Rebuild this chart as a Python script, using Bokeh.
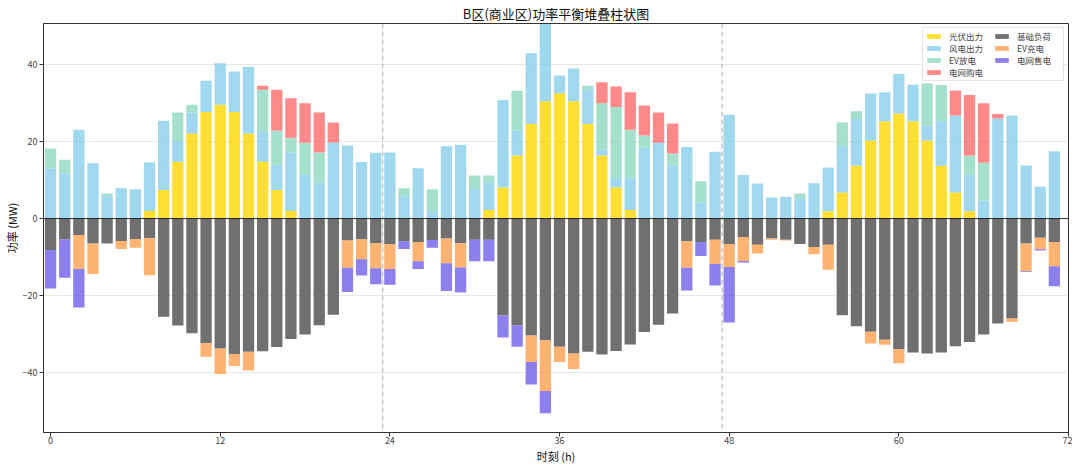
from bokeh.plotting import figure
from bokeh.models import ColumnDataSource, Legend, LegendItem, Span, Range1d, FixedTicker
from bokeh.embed import file_html
from bokeh.resources import INLINE

FONT = "Noto Sans CJK SC"

hours = list(range(72))

pv = [0, 0, 0, 0, 0, 0, 0, 2.0, 7.4, 14.8, 22.1, 27.7, 29.6, 27.7, 22.1, 14.8, 7.4, 2.0,
      0, 0, 0, 0, 0, 0, 0, 0, 0, 0, 0, 0, 0,
      2.2, 8.1, 16.4, 24.6, 30.5, 32.6, 30.5, 24.6, 16.4, 8.1, 2.2,
      0, 0, 0, 0, 0, 0, 0, 0, 0, 0, 0, 0, 0,
      1.9, 6.8, 13.7, 20.3, 25.3, 27.3, 25.3, 20.3, 13.7, 6.8, 1.9,
      0, 0, 0, 0, 0, 0]

wind = [13.0, 11.7, 23.1, 14.4, 5.8, 7.9, 7.6, 12.6, 18.0, 5.3, 5.5, 8.1,
        10.8, 10.5, 17.3, 7.9, 6.6, 15.1, 11.4, 9.3, 19.8, 19.0, 14.7, 17.1,
        17.2, 5.8, 13.1, 1.9, 18.8, 19.2, 7.7, 7.2, 22.7, 6.5, 18.4, 20.1,
        4.6, 8.5, 8.9, 1.5, 2.5, 8.5, 18.5, 19.7, 14.0, 18.6, 4.1, 17.4,
        27.0, 11.3, 9.1, 5.5, 5.7, 5.3, 9.2, 11.4, 12.0, 12.2, 12.2, 7.5,
        10.3, 9.5, 3.9, 11.6, 20.0, 9.5, 4.7, 26.0, 26.8, 13.8, 8.3, 17.5]

ev_discharge = [5.2, 3.6, 0, 0, 0.7, 0, 0, 0, 0, 7.5, 2.0, 0,
                0, 0, 0, 10.8, 8.9, 3.9, 8.3, 7.9, 0, 0, 0, 0,
                0, 2.1, 0, 5.7, 0, 0, 3.5, 1.8, 0, 10.3, 0, 0,
                0, 0, 1.0, 12.1, 18.4, 12.4, 3.1, 0, 2.9, 0, 5.6, 0,
                0, 0, 0, 0, 0, 1.2, 0, 0, 6.2, 2.0, 0, 0,
                0, 0, 10.9, 9.4, 0, 5.0, 9.8, 0, 0, 0, 0, 0]

grid_buy = [0, 0, 0, 0, 0, 0, 0, 0, 0, 0, 0, 0,
            0, 0, 0, 1.0, 10.6, 10.3, 10.3, 10.4, 5.2, 0, 0, 0,
            0, 0, 0, 0, 0, 0, 0, 0, 0, 0, 0, 0,
            0, 0, 0, 5.4, 5.3, 9.7, 7.8, 7.9, 7.8, 0, 0, 0,
            0, 0, 0, 0, 0, 0, 0, 0, 0, 0, 0, 0,
            0, 0, 0, 0, 6.5, 15.7, 15.5, 1.2, 0, 0, 0, 0]

base_load = [8.2, 5.4, 4.3, 6.5, 6.5, 5.8, 5.4, 5.1, 25.5, 27.8, 29.8, 32.4,
             33.8, 35.2, 34.6, 34.5, 33.4, 31.3, 30.1, 27.7, 25.0, 5.7, 5.4, 6.4,
             6.7, 5.9, 6.1, 5.6, 5.2, 6.4, 5.5, 5.5, 25.2, 27.7, 30.4, 31.6,
             33.3, 35.1, 34.6, 35.3, 34.4, 32.7, 29.5, 27.6, 24.7, 5.9, 6.1, 5.5,
             6.6, 4.8, 6.8, 5.2, 5.5, 6.6, 7.4, 6.8, 25.1, 28.0, 29.4, 31.5,
             33.9, 34.8, 35.1, 34.8, 33.2, 32.1, 30.1, 27.3, 26.0, 6.5, 5.0, 6.1]

ev_charge = [0, 0, 8.8, 7.9, 0, 2.1, 2.2, 9.6, 0, 0, 0, 3.5,
             6.6, 3.1, 4.9, 0, 0, 0, 0, 0, 0, 7.1, 5.2, 6.5,
             6.4, 0, 5.0, 0, 6.4, 6.3, 0, 0, 0, 0, 6.9, 13.2,
             4.0, 4.0, 0, 0, 0, 0, 0, 0, 0, 6.9, 0, 6.3,
             6.0, 6.2, 2.3, 0.3, 0.2, 0, 1.9, 6.5, 0, 0, 3.1, 1.3,
             3.7, 0, 0, 0, 0, 0, 0, 0, 0.9, 7.1, 3.0, 6.3]

grid_sell = [10.0, 10.0, 10.0, 0, 0, 0, 0, 0, 0, 0, 0, 0,
             0, 0, 0, 0, 0, 0, 0, 0, 0, 6.3, 4.2, 4.2,
             4.1, 2.0, 2.0, 2.0, 7.2, 6.5, 5.6, 5.6, 5.7, 5.6, 5.8, 5.8,
             0, 0, 0, 0, 0, 0, 0, 0, 0, 5.9, 3.6, 5.6,
             14.4, 0.4, 0, 0, 0, 0, 0, 0, 0, 0, 0, 0,
             0, 0, 0, 0, 0, 0, 0, 0, 0, 0.2, 0.3, 5.2]

x_ticks = [0, 12, 24, 36, 48, 60, 72]
y_ticks = [-40, -20, 0, 20, 40]
day_bounds = [23.5, 47.5]

pos_names = ["光伏出力", "风电出力", "EV放电", "电网购电"]
neg_names = ["基础负荷", "EV充电", "电网售电"]
pos_colors = ["#FFD700", "#87CEEB", "#8FD8C0", "#FF6B6B"]
neg_colors = ["#6B6B6B", "#FFA050", "#7060EA"]
pos_alpha = [0.8, 0.8, 0.8, 0.8]
neg_alpha = [0.97, 0.8, 0.8]

src = ColumnDataSource(dict(
    hour=hours, pv=pv, wind=wind, ev_dis=ev_discharge, grid_buy=grid_buy,
    base=[-v for v in base_load], ev_ch=[-v for v in ev_charge],
    grid_sell=[-v for v in grid_sell],
))

p = figure(width=1072, height=466, output_backend="svg", toolbar_location=None,
           x_range=Range1d(-0.5, 72), y_range=Range1d(-55.6, 50.7),
           min_border_left=40, min_border_right=4, min_border_top=14,
           min_border_bottom=28)

p.title.text = "B区(商业区)功率平衡堆叠柱状图"
p.title.align = "center"
p.title.text_font = FONT
p.title.text_font_size = "13px"
p.title.text_font_style = "normal"
p.title.text_color = "#111111"
p.title.standoff = 2

pos_r = p.vbar_stack(["pv", "wind", "ev_dis", "grid_buy"], x="hour", width=0.8,
                     source=src, color=pos_colors, line_alpha=0)
neg_r = p.vbar_stack(["base", "ev_ch", "grid_sell"], x="hour", width=0.8,
                     source=src, color=neg_colors, line_alpha=0)
for r, a in zip(pos_r, pos_alpha):
    r.glyph.fill_alpha = a
for r, a in zip(neg_r, neg_alpha):
    r.glyph.fill_alpha = a

for b in day_bounds:
    p.add_layout(Span(location=b, dimension="height", line_color="#999999",
                      line_dash="5 3", line_width=1, line_alpha=0.8))
p.add_layout(Span(location=0, dimension="width", line_color="#000000",
                  line_width=0.8))

items = [LegendItem(label=n, renderers=[r]) for n, r in zip(pos_names, pos_r)]
items += [LegendItem(label=n, renderers=[r]) for n, r in zip(neg_names, neg_r)]
legend = Legend(items=items, location="top_right", nrows=4,
                label_text_font=FONT, label_text_font_size="8.5px",
                glyph_width=17, glyph_height=6, label_height=8,
                label_width=44, label_standoff=7, spacing=0, padding=2,
                margin=4, border_line_color="#cccccc",
                background_fill_alpha=0.85)
p.add_layout(legend, "center")

p.xaxis.ticker = FixedTicker(ticks=x_ticks)
p.yaxis.ticker = FixedTicker(ticks=y_ticks)
p.xaxis.axis_label = "时刻 (h)"
p.yaxis.axis_label = "功率 (MW)"
for ax in (p.xaxis, p.yaxis):
    ax.axis_label_text_font = FONT
    ax.axis_label_text_font_size = "11px"
    ax.axis_label_text_font_style = "normal"
    ax.axis_label_text_color = "#111111"
    ax.major_label_text_font = FONT
    ax.major_label_text_font_size = "9px"
    ax.minor_tick_line_color = None
    ax.major_tick_out = 4
    ax.major_tick_in = 0
    ax.axis_line_color = "#333333"
    ax.major_tick_line_color = "#333333"
p.xaxis.major_label_standoff = 0
p.xaxis.axis_label_standoff = 1
p.yaxis.major_label_standoff = 2
p.yaxis.axis_label_standoff = 0

p.xgrid.grid_line_color = None
p.ygrid.grid_line_color = "#dddddd"
p.ygrid.grid_line_alpha = 0.7
p.outline_line_color = "#333333"
p.outline_line_alpha = 1
p.outline_line_width = 1

open("out.html", "w").write(file_html(p, INLINE))
